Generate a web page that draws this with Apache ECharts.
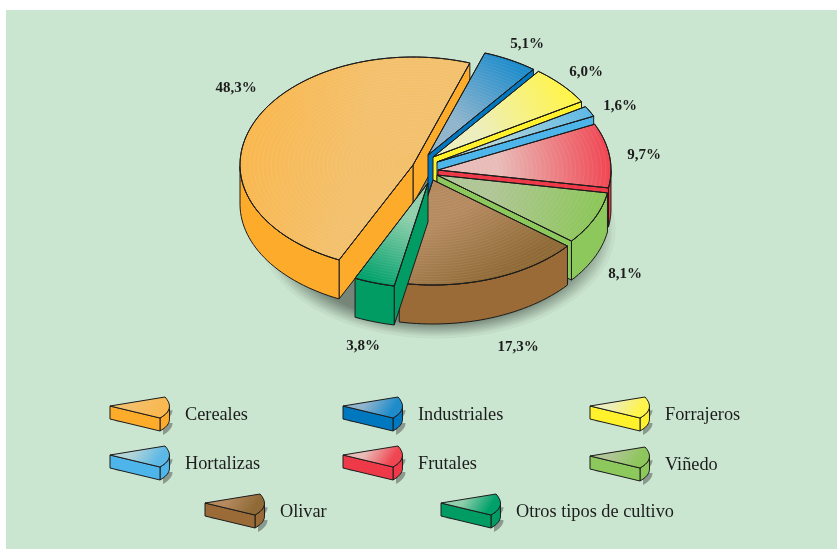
<!DOCTYPE html>
<html>
<head>
<meta charset="utf-8">
<style>
	html, body { margin: 0; padding: 0; background: #fff; }
	#chart { width: 837px; height: 549px; }
</style>
<script src="https://cdn.jsdelivr.net/npm/echarts@6/dist/echarts.min.js"></script>
</head>
<body>
<div id="chart"></div>
<script>
const categories = ['Cereales', 'Industriales', 'Forrajeros', 'Hortalizas', 'Frutales', 'Viñedo', 'Olivar', 'Otros tipos de cultivo'];
const shares = [48.3, 5.1, 6.0, 1.6, 9.7, 8.1, 17.3, 3.8];

// colours: wall, top face at the apex, top face at the rim
const wallColors = ['#fdab2a', '#0078c0', '#fff22d', '#4db5ea', '#ee3a48', '#8cc85c', '#9a6b36', '#009c63'];
const innerColors = ['#f3c06c', '#8fb4cc', '#eceebd', '#b4d5d8', '#e8bcb8', '#b0c696', '#b58a5f', '#8fcfac'];
const rimColors = ['#f9b850', '#1e8ccb', '#fff44a', '#5cb8e6', '#f04652', '#8dc65a', '#8f6a36', '#00a06a'];

// how far each slice is pulled out of the pie, label centres, legend positions
const explode = [[-13, -5], [2, -15], [7, -13], [11, -8], [12, 0], [11, 5], [7, 10], [2, 13]];
const labelPos = [[236, 88], [527, 44], [586, 72], [620, 106], [644, 155], [625, 274], [518, 347], [363, 346]];
const legendPos = [[110, 406], [343, 406], [590, 406], [110, 455], [343, 455], [590, 456], [205, 503], [441, 503]];

const pie = { cx: 426, cy: 170, rx: 173, ryBack: 108, ryFront: 105, wall: 39, startAngle: -244.7 };
const outline = '#1c1c1c';

function rad(d) { return d * Math.PI / 180; }

function sliceAngles(i) {
	let sum = 0;
	for (let k = 0; k < i; k++) sum += shares[k];
	const a0 = pie.startAngle + sum * 3.6;
	return [a0, a0 + shares[i] * 3.6];
}

function polygon(points, fill, extra) {
	return Object.assign({
		type: 'polygon',
		shape: { points: points },
		style: { fill: fill, stroke: outline, lineWidth: 1, lineJoin: 'round' }
	}, extra || {});
}

function rimPoint(ax, ay, deg) {
	const t = rad(deg);
	const ry = Math.sin(t) > 0 ? pie.ryFront : pie.ryBack;
	return [ax + pie.rx * Math.cos(t), ay + ry * Math.sin(t)];
}

function renderSlice(params, api) {
	const i = api.value(0);
	const [a0, a1] = sliceAngles(i);
	const ax = pie.cx + explode[i][0];
	const ay = pie.cy + explode[i][1];
	const h = pie.wall;

	const steps = Math.max(4, Math.ceil((a1 - a0) / 2));
	let rim = [];
	for (let s = 0; s <= steps; s++) {
		rim.push(rimPoint(ax, ay, a0 + (a1 - a0) * s / steps));
	}
	const first = rim[0], last = rim[rim.length - 1];
	const children = [];

	// only walls that face the viewer
	if (last[0] > ax) {
		children.push(polygon([[ax, ay], last, [last[0], last[1] + h], [ax, ay + h]], wallColors[i]));
	}
	if (first[0] < ax) {
		children.push(polygon([[ax, ay], first, [first[0], first[1] + h], [ax, ay + h]], wallColors[i]));
	}
	let front = [];
	for (let s = 0; s <= steps; s++) {
		const t = rad(a0 + (a1 - a0) * s / steps);
		if (Math.sin(t) >= -0.02) front.push(rim[s]);
	}
	if (front.length > 1) {
		const lower = front.map(p => [p[0], p[1] + h]).reverse();
		children.push(polygon(front.concat(lower), wallColors[i]));
	}

	// top face
	const [ex, ey] = rimPoint(ax, ay, (a0 + a1) / 2);
	const fill = new echarts.graphic.LinearGradient(ax, ay, ex, ey, [
		{ offset: 0, color: innerColors[i] },
		{ offset: 0.35, color: innerColors[i] },
		{ offset: 1, color: rimColors[i] }
	], true);
	children.push(polygon([[ax, ay]].concat(rim), fill));

	// the fine concentric hatching of the print
	for (let f = 0.12; f < 0.99; f += 0.025) {
		const arc = rim.map(p => [ax + (p[0] - ax) * f, ay + (p[1] - ay) * f]);
		children.push({
			type: 'polyline',
			shape: { points: arc },
			silent: true,
			style: { fill: null, stroke: 'rgba(255,255,255,0.1)', lineWidth: 0.7 }
		});
	}
	children.push(polygon([[ax, ay]].concat(rim), 'transparent'));

	// percentage label
	children.push({
		type: 'text',
		x: labelPos[i][0],
		y: labelPos[i][1],
		style: {
			text: shares[i].toFixed(1).replace('.', ',') + '%',
			font: 'bold 15px "Liberation Serif"',
			fill: '#1c1c1c',
			align: 'center',
			verticalAlign: 'middle'
		}
	});
	return { type: 'group', children: children };
}

function quad(p0, c, p1, n) {
	const out = [];
	for (let s = 0; s <= n; s++) {
		const u = s / n;
		out.push([
			(1 - u) * (1 - u) * p0[0] + 2 * u * (1 - u) * c[0] + u * u * p1[0],
			(1 - u) * (1 - u) * p0[1] + 2 * u * (1 - u) * c[1] + u * u * p1[1]
		]);
	}
	return out;
}

function renderLegend(params, api) {
	const i = api.value(0);
	const [x, y] = legendPos[i];
	const h = 13;
	const P = (dx, dy) => [x + dx, y + dy];
	// small wedge: apex on the left, front corner at the bottom right
	const arc = quad(P(55, -9), P(66, 3), P(50, 12), 10);
	const top = [P(0, 0)].concat(arc);
	const arcLow = arc.slice(4).map(p => [p[0], p[1] + h]).reverse();
	const inner = new echarts.graphic.LinearGradient(x + 48, y + 6, x + 26, y - 8, [
		{ offset: 0, color: rimColors[i] },
		{ offset: 1, color: innerColors[i] }
	], true);
	const side = [P(0, 0), P(50, 12), P(50, 12 + h), P(0, h)];
	const shadowPts = arc.slice(4).concat(arcLow).concat([P(2, h - 1)]).map(p => [p[0] + 3, p[1] + 4]);
	return {
		type: 'group',
		children: [
			{ type: 'polygon', shape: { points: shadowPts }, style: { fill: '#7f8c82', opacity: 0.85 } },
			polygon(arc.slice(4).concat(arcLow), wallColors[i]),
			polygon(side, wallColors[i]),
			polygon(top, inner),
			{
				type: 'text',
				x: x + 75,
				y: y + 9,
				style: {
					text: categories[i],
					font: '18.3px "Liberation Serif"',
					fill: '#1c1c1c',
					align: 'left',
					verticalAlign: 'middle'
				}
			}
		]
	};
}

const chart = echarts.init(document.getElementById('chart'));
const rows = shares.map((v, i) => [i, v]);

chart.setOption({
	animation: false,
	graphic: [
		{
			type: 'rect',
			z: -10,
			shape: { x: 6, y: 10, width: 831, height: 539 },
			style: { fill: '#cbe6d0' }
		},
		{
			// soft shadow under the pie
			type: 'circle',
			z: -5,
			x: 437,
			y: 230,
			scaleY: 108 / 178,
			shape: { cx: 0, cy: 0, r: 178 },
			style: {
				fill: new echarts.graphic.RadialGradient(0.5, 0.5, 0.5, [
					{ offset: 0, color: '#6f7f72' },
					{ offset: 0.86, color: '#768779' },
					{ offset: 1, color: '#cbe6d0' }
				]),
				stroke: '#b4cdb9',
				lineWidth: 0.6
			}
		}
	],
	series: [
		{
			type: 'custom',
			name: 'pie',
			coordinateSystem: 'none',
			renderItem: renderSlice,
			data: rows,
			silent: true
		},
		{
			type: 'custom',
			name: 'legend',
			coordinateSystem: 'none',
			renderItem: renderLegend,
			data: rows,
			silent: true
		}
	]
});
</script>
</body>
</html>
